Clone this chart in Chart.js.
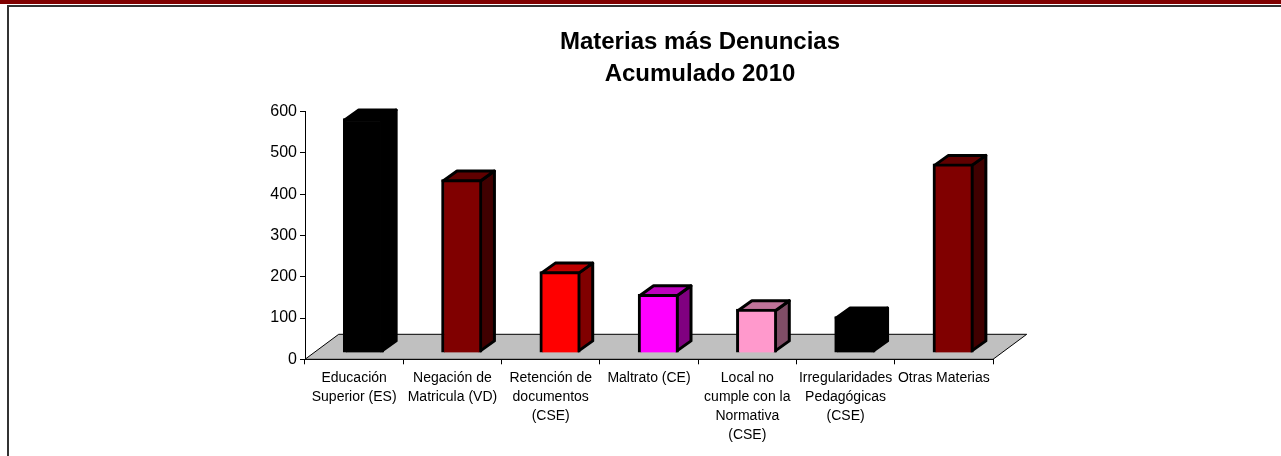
<!DOCTYPE html>
<html>
<head>
<meta charset="utf-8">
<script src="https://cdn.jsdelivr.net/npm/chart.js@4"></script>
<style>
html,body{margin:0;padding:0;background:#fff;overflow:hidden}
#wrap{position:relative;width:1281px;height:456px;overflow:hidden}
#band{position:absolute;left:0;top:0;width:1281px;height:4px;background:#800000}
#frameTop{position:absolute;left:7px;top:5px;width:1274px;height:2px;background:#333}
#frameLeft{position:absolute;left:7px;top:5px;width:2px;height:451px;background:#333}
canvas{position:absolute;left:0;top:0}
</style>
</head>
<body>
<div id="wrap">
<div id="band"></div>
<div id="frameTop"></div>
<div id="frameLeft"></div>
<canvas id="c" width="1281" height="456"></canvas>
</div>
<script>
const titleLines = ["Materias más Denuncias", "Acumulado 2010"];
const categories = [
  ["Educación", "Superior (ES)"],
  ["Negación de", "Matricula (VD)"],
  ["Retención de", "documentos", "(CSE)"],
  ["Maltrato (CE)"],
  ["Local no", "cumple con la", "Normativa", "(CSE)"],
  ["Irregularidades", "Pedagógicas", "(CSE)"],
  ["Otras Materias"]
];
const denuncias = [568, 420, 197, 142, 106, 88, 458];
const yTicks = [0, 100, 200, 300, 400, 500, 600];
const frontColors = ["#000000", "#800000", "#ff0000", "#ff00ff", "#ff99cc", "#000000", "#800000"];
const topColors   = ["#000000", "#600000", "#bf0000", "#bf00bf", "#bf7399", "#000000", "#600000"];
const sideColors  = ["#000000", "#400000", "#800000", "#800080", "#804d66", "#000000", "#400000"];

// 3D geometry (pixels)
const FLOOR = {dx: 33.7, dy: -25};
const BAR_SHIFT = {dx: 9.3, dy: -6.4};
const BAR_DEPTH = {dx: 14, dy: -10};

const chart3d = {
  id: 'chart3d',
  afterLayout(chart) {
    chart.titleBlock.left = 119;
    chart.titleBlock.right = 1281;
  },
  beforeDatasetsDraw(chart) {
    const {ctx, scales: {x, y}} = chart;
    const y0 = y.getPixelForValue(0), l = x.left, r = x.right;
    ctx.save();
    ctx.beginPath();
    ctx.moveTo(l, y0);
    ctx.lineTo(l + FLOOR.dx, y0 + FLOOR.dy);
    ctx.lineTo(r + FLOOR.dx, y0 + FLOOR.dy);
    ctx.lineTo(r, y0);
    ctx.closePath();
    ctx.fillStyle = '#c0c0c0';
    ctx.fill();
    ctx.strokeStyle = '#000';
    ctx.lineWidth = 1;
    ctx.stroke();
    ctx.restore();
  },
  beforeDatasetDraw(chart) {
    const {ctx} = chart;
    ctx.save();
    ctx.translate(BAR_SHIFT.dx, BAR_SHIFT.dy);
    const d = BAR_DEPTH;
    chart.getDatasetMeta(0).data.forEach((b, i) => {
      const p = b.getProps(['x', 'y', 'base', 'width'], true);
      const L = p.x - p.width / 2, R = p.x + p.width / 2, T = p.y, B = p.base;
      const inset = 1.5;
      ctx.lineWidth = 3;
      ctx.lineJoin = 'round';
      ctx.strokeStyle = '#000';
      // side face
      ctx.beginPath();
      ctx.moveTo(R - inset, T + inset);
      ctx.lineTo(R + d.dx - inset, T + d.dy + inset);
      ctx.lineTo(R + d.dx - inset, B + d.dy - inset);
      ctx.lineTo(R - inset, B - inset);
      ctx.closePath();
      ctx.fillStyle = sideColors[i];
      ctx.fill();
      ctx.stroke();
      // top face
      ctx.beginPath();
      ctx.moveTo(L + inset, T + inset);
      ctx.lineTo(L + d.dx + inset, T + d.dy + inset);
      ctx.lineTo(R + d.dx - inset, T + d.dy + inset);
      ctx.lineTo(R - inset, T + inset);
      ctx.closePath();
      ctx.fillStyle = topColors[i];
      ctx.fill();
      ctx.stroke();
    });
  },
  afterDatasetDraw(chart) {
    chart.ctx.restore();
  }
};

new Chart(document.getElementById('c'), {
  type: 'bar',
  data: {
    labels: categories,
    datasets: [{
      label: 'Denuncias',
      data: denuncias,
      backgroundColor: frontColors,
      borderColor: '#000',
      borderWidth: 3,
      barThickness: 40.4,
      clip: false
    }]
  },
  plugins: [chart3d],
  options: {
    responsive: false,
    animation: false,
    events: [],
    layout: {padding: {left: 119, right: 288, top: 0, bottom: 0}},
    plugins: {
      legend: {display: false},
      tooltip: {enabled: false},
      title: {
        display: true,
        text: titleLines,
        color: '#000',
        font: {family: '"Liberation Sans", Arial, sans-serif', size: 24, weight: 'bold', lineHeight: 1.32},
        padding: {top: 26.5, bottom: 21.84}
      }
    },
    scales: {
      x: {
        afterFit(s) { s.height = 456 - 359.3; },
        border: {display: true, color: '#000', width: 1},
        grid: {display: true, drawOnChartArea: false, drawTicks: true, tickLength: 5, tickColor: '#000', offset: true},
        ticks: {
          autoSkip: false, maxRotation: 0, minRotation: 0, color: '#000', padding: 4,
          font: {family: '"Liberation Sans", Arial, sans-serif', size: 14, lineHeight: 1.36}
        }
      },
      y: {
        min: 0, max: 600,
        afterFit(s) { s.width = 305 - 119; },
        afterBuildTicks(s) { s.ticks = yTicks.map(v => ({value: v})); },
        border: {display: true, color: '#000', width: 1},
        grid: {display: true, drawOnChartArea: false, drawTicks: true, tickLength: 5, tickColor: '#000'},
        ticks: {
          color: '#000', padding: 3,
          font: {family: '"Liberation Sans", Arial, sans-serif', size: 16}
        }
      }
    }
  }
});
</script>
</body>
</html>
